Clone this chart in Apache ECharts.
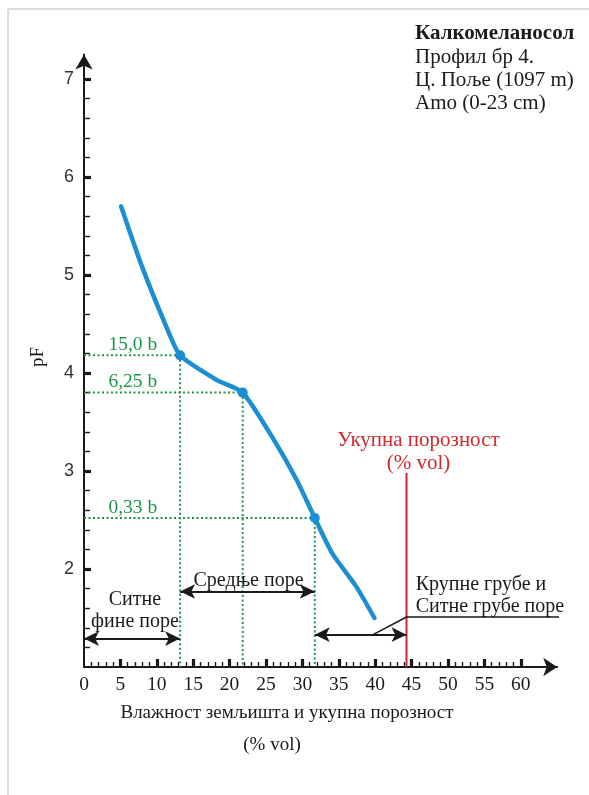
<!DOCTYPE html>
<html><head><meta charset="utf-8">
<script src="https://cdn.jsdelivr.net/npm/echarts@6/dist/echarts.min.js"></script>
<style>html,body{margin:0;padding:0;background:#fff}#c{width:589px;height:795px}</style>
</head><body><div id="c"></div>
<script>
// ---- data ----
const moisture = [5.1, 8.0, 11.1, 13.2, 18.2, 21.8, 25.9, 29.2, 31.7, 34.1, 37.4, 39.9];
const pF =       [5.70, 5.08, 4.51, 4.18, 3.93, 3.80, 3.34, 2.91, 2.52, 2.16, 1.82, 1.50];
const poreMoisture = [13.2, 21.8, 31.7];
const porePF = [4.18, 3.80, 2.52];
const poreLabels = ['15,0 b', '6,25 b', '0,33 b'];
const totalPorosity = 44.3;
const totalPorosityTop = 2.98;
const xTickLabels = [0, 5, 10, 15, 20, 25, 30, 35, 40, 45, 50, 55, 60];
const yTickLabels = [2, 3, 4, 5, 6, 7];

// ---- derived tick positions ----
const xMinorTicks = [];
for (let v = 1; v <= 60; v++) if (v % 5 !== 0) xMinorTicks.push(v);
const xMajorTicks = xTickLabels.filter(v => v > 0);
const yMinorTicks = [];
for (let i = 6; i <= 34; i++) if (i % 5 !== 0) yMinorTicks.push(Math.round(i * 2) / 10);
const yMajorTicks = yTickLabels.slice();

const SERIF = 'Liberation Serif';
const SANS = 'Liberation Sans';
const BLUE = '#1b8fd2';
const GREEN = '#1a9646';
const RED = '#d0282c';
const INK = '#1a1a1a';
const CLEAR = 'rgba(0,0,0,0)';

const chart = echarts.init(document.getElementById('c'), null, {renderer: 'canvas'});

const X_MIN = 0, X_MAX = 65, Y_MIN = 1, Y_MAX = 7.25;

function baseX(extra) {
  return Object.assign({
    type: 'value', min: X_MIN, max: X_MAX, position: 'bottom',
    splitLine: {show: false},
    axisLine: {show: false, onZero: false},
    axisLabel: {show: false},
    axisTick: {show: false}
  }, extra);
}
function baseY(extra) {
  return Object.assign({
    type: 'value', min: Y_MIN, max: Y_MAX, position: 'left',
    splitLine: {show: false},
    axisLine: {show: false, onZero: false},
    axisLabel: {show: false},
    axisTick: {show: false}
  }, extra);
}

const series = [];

// dotted guide lines
poreMoisture.forEach((x, i) => {
  const y = porePF[i];
  series.push({
    type: 'line', data: [[0, y], [x, y]], symbol: 'none', silent: true,
    lineStyle: {color: GREEN, width: 2, type: [2, 2.5]}, z: 2
  });
  series.push({
    type: 'line', data: [[x, y], [x, Y_MIN]], symbol: 'none', silent: true,
    lineStyle: {color: GREEN, width: 2, type: [2, 2.5]}, z: 2
  });
});

// green labels
series.push({
  type: 'scatter', symbolSize: 1, itemStyle: {color: CLEAR, opacity: 1}, silent: true,
  data: porePF.map(y => [6.7, y]),
  label: {
    show: true, position: 'top', distance: 0,
    formatter: p => poreLabels[p.dataIndex],
    color: GREEN, fontFamily: SERIF, fontSize: 19.5, textBorderWidth: 0
  }, z: 3
});

// total porosity line
series.push({
  type: 'line', data: [[totalPorosity, Y_MIN], [totalPorosity, totalPorosityTop]],
  symbol: 'none', silent: true, lineStyle: {color: RED, width: 2}, z: 3,
  endLabel: {
    show: true, formatter: 'Укупна порозност\n(% vol)', color: RED,
    fontFamily: SERIF, fontSize: 21, lineHeight: 23, align: 'center',
    verticalAlign: 'bottom', offset: [4, 2]
  }
});

// retention curve
series.push({
  type: 'line', data: moisture.map((x, i) => [x, pF[i]]), symbol: 'none',
  smooth: 0.2, silent: true, lineStyle: {color: BLUE, width: 4.5, cap: 'round'}, z: 5
});
series.push({
  type: 'scatter', data: poreMoisture.map((x, i) => [x, porePF[i]]),
  symbolSize: 10, itemStyle: {color: BLUE, opacity: 1}, silent: true, z: 6
});

// leader line to "Крупне грубе..." label
series.push({
  type: 'line', data: [[39.7, 1.33], [44.3, 1.51], [65.6, 1.51]], symbol: 'none',
  clip: false, silent: true, lineStyle: {color: INK, width: 1.5}, z: 4
});

// double arrows
series.push({
  type: 'line', data: [], silent: true,
  markLine: {
    silent: true, symbol: ['arrow', 'arrow'], symbolSize: [11, 15],
    label: {show: false},
    lineStyle: {color: INK, width: 2, type: 'solid'},
    data: [
      [{coord: [0, 1.29]}, {coord: [poreMoisture[0], 1.29]}],
      [{coord: [poreMoisture[0], 1.77]}, {coord: [poreMoisture[2], 1.77]}],
      [{coord: [poreMoisture[2], 1.33]}, {coord: [totalPorosity, 1.33]}]
    ]
  }
});

// black text annotations
series.push({
  type: 'scatter', symbolSize: 1, itemStyle: {color: CLEAR, opacity: 1}, silent: true,
  data: [
    {value: [7.0, 1.57], label: {formatter: 'Ситне\nфине поре', position: 'inside'}},
    {value: [22.6, 1.88], label: {formatter: 'Средње поре', position: 'inside'}},
    {value: [45.5, 1.725], label: {formatter: 'Крупне грубе и\nСитне грубе поре', position: 'right', distance: 0, align: 'left'}}
  ],
  label: {show: true, color: INK, fontFamily: SERIF, fontSize: 20, lineHeight: 22, textBorderWidth: 0},
  z: 7
});

chart.setOption({
  backgroundColor: '#fff',
  animation: false,
  grid: {left: 84, top: 54.5, right: 31.8, bottom: 128},
  xAxis: [
    baseX({
      axisLine: {show: true, onZero: false, symbol: ['none', 'arrow'], symbolSize: [14, 14],
                 lineStyle: {color: INK, width: 2}},
      axisLabel: {show: true, customValues: xTickLabels, color: INK, fontFamily: SERIF, fontSize: 19.5, margin: 8},
      axisTick: {show: true, inside: true, customValues: xMinorTicks, length: 5, lineStyle: {color: INK, width: 1.4}}
    }),
    baseX({
      axisTick: {show: true, inside: true, customValues: xMajorTicks, length: 8, lineStyle: {color: INK, width: 3.2}}
    })
  ],
  yAxis: [
    baseY({
      axisLine: {show: true, onZero: false, symbol: ['none', 'arrow'], symbolSize: [13, 15],
                 lineStyle: {color: INK, width: 2}},
      axisLabel: {show: true, customValues: yTickLabels, color: '#333', fontFamily: SANS, fontSize: 18, margin: 10},
      axisTick: {show: true, inside: true, customValues: yMinorTicks, length: 6, lineStyle: {color: INK, width: 1.4}}
    }),
    baseY({
      axisTick: {show: true, inside: true, customValues: yMajorTicks, length: 7, lineStyle: {color: INK, width: 3.2}}
    })
  ],
  series: series,
  graphic: [
    {type: 'line', shape: {x1: 8, y1: 9, x2: 589, y2: 9}, style: {stroke: '#cfcfcf', lineWidth: 1.5}, silent: true},
    {type: 'line', shape: {x1: 8, y1: 9, x2: 8, y2: 795}, style: {stroke: '#cfcfcf', lineWidth: 1.5}, silent: true},
    {type: 'text', left: 415, top: 23, silent: true,
     style: {text: 'Калкомеланосол', font: 'bold 21px "Liberation Serif"', fill: INK}},
    {type: 'text', left: 415, top: 46, silent: true,
     style: {text: 'Профил бр 4.\nЦ. Поље (1097 m)\nAmo (0-23 cm)', font: '21px "Liberation Serif"', lineHeight: 23, fill: INK}},
    {type: 'text', x: 287, y: 713, silent: true,
     style: {text: 'Влажност земљишта и укупна порозност', font: '19px "Liberation Serif"', fill: INK, align: 'center', verticalAlign: 'middle'}},
    {type: 'text', x: 272, y: 745, silent: true,
     style: {text: '(% vol)', font: '19px "Liberation Serif"', fill: INK, align: 'center', verticalAlign: 'middle'}},
    {type: 'text', x: 38, y: 357, rotation: Math.PI / 2, silent: true,
     style: {text: 'pF', font: '19px "Liberation Serif"', fill: INK, align: 'center', verticalAlign: 'middle'}}
  ]
});
</script>
</body></html>
